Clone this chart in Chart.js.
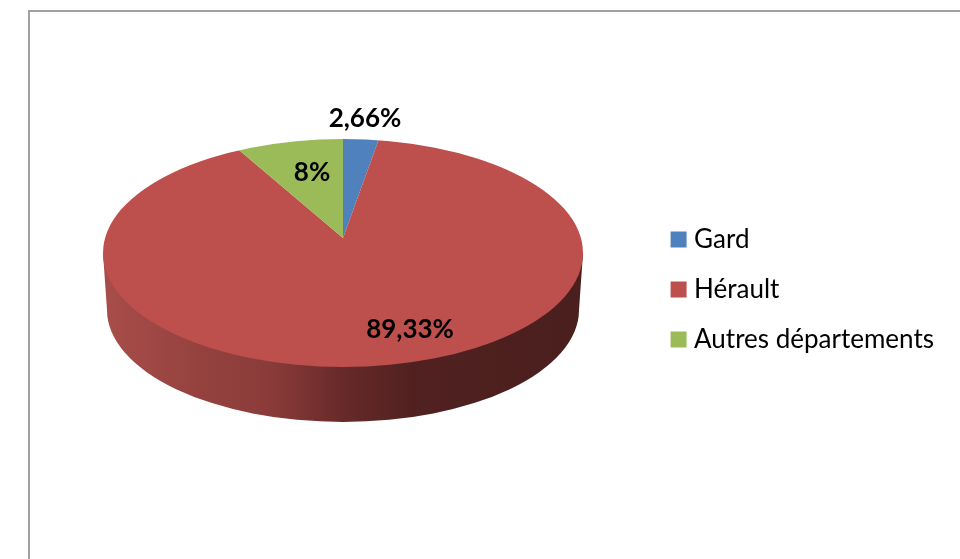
<!DOCTYPE html>
<html>
<head>
<meta charset="utf-8">
<title>Départements</title>
<script src="https://cdn.jsdelivr.net/npm/chart.js@4/dist/chart.umd.min.js"></script>
<style>
  html, body { margin: 0; padding: 0; background: #fff; overflow: hidden; }
  canvas { display: block; }
</style>
</head>
<body>
<canvas id="pie" width="960" height="559"></canvas>
<script>
const categories = ['Gard', 'Hérault', 'Autres départements'];
const shares = [2.66, 89.33, 8];
const sliceColors = ['#4f81bd', '#bd4f4c', '#9bbb59'];
// where each percentage sits on the page
const labelX = [365, 410, 312];
const labelY = [119, 330, 173];

// top face of the tilted disc, the slices meet above its middle
const disc = { x: 343, y: 253, rx: 240, ry: 114, apexX: 343, apexY: 238, squash: 0.465 };
const base = { y: 310, rx: 236, ry: 112 };

const frame = {
  id: 'frame',
  beforeDraw(chart) {
    const ctx = chart.ctx;
    ctx.save();
    ctx.strokeStyle = '#a0a0a0';
    ctx.lineWidth = 2;
    ctx.beginPath();
    ctx.moveTo(29, 559);
    ctx.lineTo(29, 11);
    ctx.lineTo(960, 11);
    ctx.stroke();
    ctx.restore();
  }
};

const tilt = {
  id: 'tilt',
  beforeDatasetsDraw(chart) {
    const ctx = chart.ctx;
    // side wall
    const wall = ctx.createLinearGradient(disc.x - disc.rx, 0, disc.x + disc.rx, 0);
    wall.addColorStop(0, '#a84d4a');
    wall.addColorStop(0.2, '#95423f');
    wall.addColorStop(0.35, '#8a3b39');
    wall.addColorStop(0.5, '#672a29');
    wall.addColorStop(0.65, '#502120');
    wall.addColorStop(1, '#4a1f1d');
    ctx.save();
    ctx.fillStyle = wall;
    ctx.beginPath();
    ctx.moveTo(disc.x + disc.rx, disc.y);
    ctx.lineTo(disc.x + base.rx, base.y);
    ctx.ellipse(disc.x, base.y, base.rx, base.ry, 0, 0, Math.PI);
    ctx.lineTo(disc.x - disc.rx, disc.y);
    ctx.closePath();
    ctx.fill();
    ctx.restore();

    // slices are drawn oversize and cut down to the top face
    const arc = chart.getDatasetMeta(0).data[0];
    ctx.save();
    ctx.beginPath();
    ctx.ellipse(disc.x, disc.y, disc.rx, disc.ry, 0, 0, Math.PI * 2);
    ctx.clip();
    ctx.translate(disc.apexX, disc.apexY);
    ctx.scale(1, disc.squash);
    ctx.translate(-arc.x, -arc.y);
  },
  afterDatasetsDraw(chart) {
    chart.ctx.restore();
  }
};

const percentLabels = {
  id: 'percentLabels',
  afterDraw(chart) {
    const ctx = chart.ctx;
    ctx.save();
    ctx.font = 'bold 26px Lato';
    ctx.fillStyle = '#000';
    ctx.textAlign = 'center';
    ctx.textBaseline = 'middle';
    shares.forEach((v, i) => {
      ctx.fillText(String(v).replace('.', ',') + '%', labelX[i], labelY[i]);
    });
    ctx.restore();
  }
};

new Chart(document.getElementById('pie').getContext('2d'), {
  type: 'pie',
  data: {
    labels: categories,
    datasets: [{
      data: shares,
      backgroundColor: sliceColors,
      borderWidth: 0,
      clip: false
    }]
  },
  options: {
    responsive: false,
    animation: false,
    radius: 340,
    layout: { padding: { top: 20, right: 16 } },
    plugins: {
      tooltip: { enabled: false },
      legend: {
        position: 'right',
        labels: {
          color: '#000',
          font: { family: 'Lato', size: 26 },
          boxWidth: 5,
          boxHeight: 5,
          padding: 24,
          // thick outline makes the swatch 16px while keeping the text close to it
          generateLabels: () => categories.map((text, i) => ({
            text,
            index: i,
            fillStyle: sliceColors[i],
            strokeStyle: sliceColors[i],
            lineWidth: 11,
            fontColor: '#000'
          }))
        }
      }
    }
  },
  plugins: [frame, tilt, percentLabels]
});
</script>
</body>
</html>
